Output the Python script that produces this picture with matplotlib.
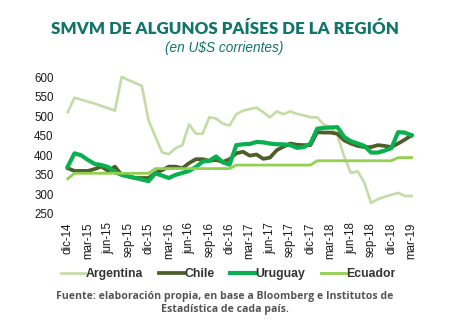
import matplotlib.pyplot as plt
import numpy as np

# monthly minimum wage, USD, dic-14 .. mar-19
MESES = ['dic', 'ene', 'feb', 'mar', 'abr', 'may', 'jun',
         'jul', 'ago', 'sep', 'oct', 'nov']
ARGENTINA = [510, 547, 542, 537, 532, 526, 520, 514, 600, 592, 585, 577,
             488, 448, 407, 403, 418, 426, 479, 455, 455, 497, 494, 481,
             476, 505, 514, 518, 522, 510, 497, 512, 505, 512, 506, 502,
             497, 497, 478, 472, 451, 397, 355, 359, 330, 278, 288, 294,
             299, 304, 296, 296]
CHILE = [367, 360, 360, 360, 365, 371, 360, 371, 350, 346, 342, 342,
         342, 355, 362, 371, 371, 367, 380, 390, 390, 386, 388, 383,
         390, 405, 409, 399, 402, 391, 394, 413, 422, 430, 427, 426,
         426, 459, 458, 458, 455, 438, 430, 424, 421, 421, 426, 424,
         421, 430, 440, 451]
URUGUAY = [371, 405, 400, 388, 378, 375, 370, 357, 350, 346, 342, 338,
           334, 354, 348, 342, 350, 355, 360, 370, 384, 386, 397, 382,
           376, 426, 428, 429, 434, 433, 430, 428, 428, 426, 419, 421,
           430, 468, 470, 471, 472, 447, 436, 430, 424, 407, 407, 412,
           418, 459, 458, 451]
ECUADOR = [340] + [354] * 12 + [366] * 12 + [375] * 12 + [386] * 12 + [394] * 3

SERIES = [
    ('Argentina', ARGENTINA, '#C5DBA5', 1.9),
    ('Chile', CHILE, '#4E5E2B', 2.7),
    ('Uruguay', URUGUAY, '#08B04F', 3.0),
    ('Ecuador', ECUADOR, '#92D050', 2.0),
]

TEAL = '#12756A'
SANS = ['Liberation Sans', 'DejaVu Sans']


def month_label(i):
    return f'{MESES[i % 12]}-{14 + (i + 11) // 12}'


def main():
    n = len(ARGENTINA)
    x = np.arange(n)

    fig = plt.figure(figsize=(4.52, 3.21), dpi=100)
    ax = fig.add_axes([62 / 452, 1 - 214 / 321, 358 / 452, 137 / 321])

    for name, vals, color, lw in SERIES:
        ax.plot(x, vals, color=color, lw=lw, label=name,
                solid_joinstyle='round', clip_on=False)

    ax.set_xlim(-0.85, 52.25)
    ax.set_ylim(250, 600)
    ax.set_yticks(range(250, 601, 50))
    ticks = list(range(0, n, 3))
    ax.set_xticks(ticks)
    ax.set_xticklabels([month_label(i) for i in ticks], rotation=90)
    ax.tick_params(length=0, pad=6, labelsize=8.3, colors='#1a1a1a')
    for lab in ax.get_xticklabels() + ax.get_yticklabels():
        lab.set_family(SANS)
    for s in ax.spines.values():
        s.set_visible(False)

    fig.text(0.497, 0.91, 'SMVM DE ALGUNOS PAÍSES DE LA REGIÓN',
             ha='center', va='center', color=TEAL, fontsize=12.2,
             fontweight='heavy', family=['Lato', 'DejaVu Sans'])
    fig.text(0.497, 0.85, '(en U$S corrientes)', ha='center', va='center',
             color=TEAL, fontsize=9.8, style='italic', family=SANS)

    leg = fig.legend(loc='center', bbox_to_anchor=(0.505, 1 - 274 / 321),
                     ncol=4, frameon=False, handlelength=2.0,
                     handletextpad=0.05, columnspacing=1.3,
                     prop={'family': SANS, 'weight': 'bold', 'size': 8.8})
    for t in leg.get_texts():
        t.set_color('#333333')

    fig.text(0.497, 1 - 303 / 321,
             'Fuente: elaboración propia, en base a Bloomberg e Institutos de\n'
             'Estadística de cada país.',
             ha='center', va='center', color='#555555', fontsize=7.6,
             fontweight='bold', family=['Open Sans', 'DejaVu Sans'],
             linespacing=1.3)

    fig.savefig('out.png', dpi=100)


if __name__ == '__main__':
    main()
